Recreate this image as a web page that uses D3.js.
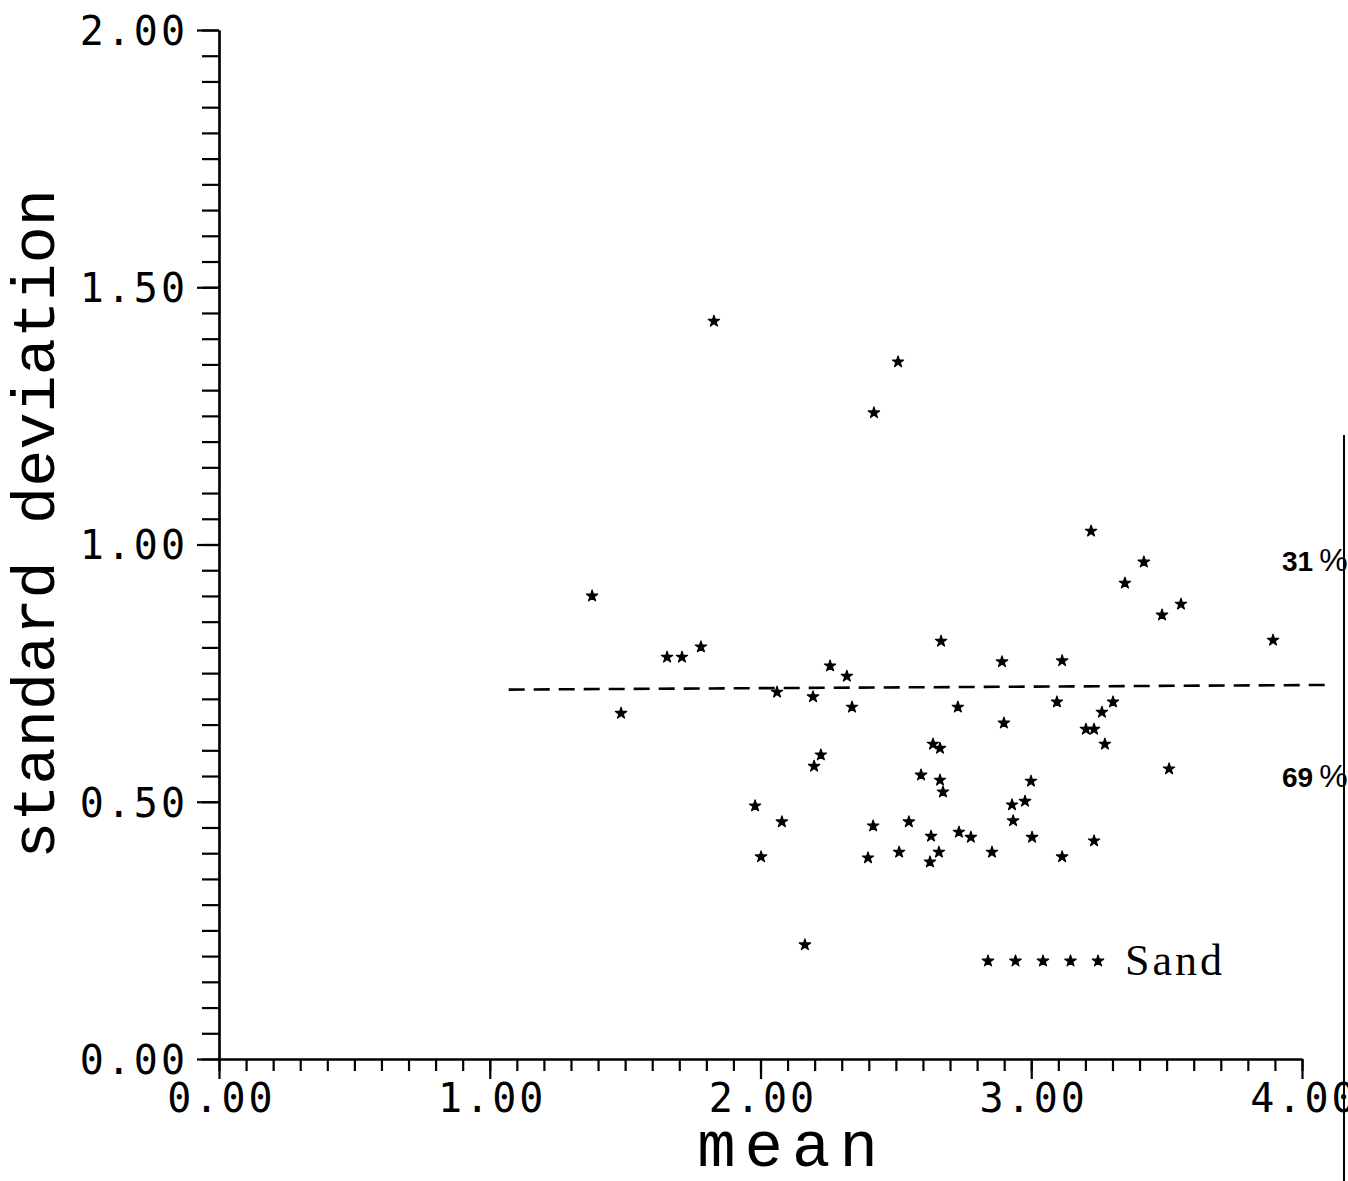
<!DOCTYPE html>
<html>
<head>
<meta charset="utf-8">
<script src="https://cdn.jsdelivr.net/npm/d3@7"></script>
<style>
  body { margin: 0; background: #fff; }
  svg { display: block; }
  .tick text { font-family: "DejaVu Sans Mono", monospace; font-size: 40px; letter-spacing: 3px; fill: #000; }
  .axis path, .axis line { stroke: #000; stroke-width: 2.2; }
</style>
</head>
<body>
<svg width="1348" height="1181"></svg>
<script>
// mean (x) and standard deviation (y) for each sample
var meanVals = [1.378, 1.485, 1.655, 1.710, 1.780, 1.828, 1.980, 2.002, 2.061, 2.079,
                2.164, 2.194, 2.198, 2.223, 2.257, 2.319, 2.338, 2.397, 2.416, 2.419,
                2.508, 2.512, 2.548, 2.593, 2.630, 2.626, 2.637, 2.663, 2.663, 2.667,
                2.659, 2.674, 2.729, 2.733, 2.777, 2.855, 2.892, 2.899, 2.929, 2.933,
                2.977, 2.999, 3.003, 3.114, 3.114, 3.095, 3.202, 3.232, 3.221, 3.232,
                3.261, 3.272, 3.302, 3.346, 3.416, 3.483, 3.509, 3.553, 3.893];
var sdVals = [0.900, 0.672, 0.781, 0.781, 0.801, 1.434, 0.492, 0.393, 0.713, 0.461,
              0.222, 0.704, 0.569, 0.591, 0.764, 0.744, 0.684, 0.391, 0.453, 1.256,
              1.355, 0.402, 0.461, 0.552, 0.433, 0.383, 0.612, 0.604, 0.542, 0.812,
              0.402, 0.519, 0.684, 0.441, 0.431, 0.402, 0.772, 0.653, 0.494, 0.463,
              0.501, 0.540, 0.431, 0.393, 0.774, 0.694, 0.641, 0.641, 1.026, 0.424,
              0.674, 0.612, 0.694, 0.925, 0.966, 0.863, 0.564, 0.884, 0.814];

// dashed split line (ends) and the share of points above / below it
var splitX = [1.07, 4.085];
var splitY = [0.718, 0.727];
var shareLabels = ["31", "69"];
var shareY = [0.968, 0.549];

var xTicksMajor = [0, 1, 2, 3, 4];
var yTicksMajor = [0, 0.5, 1, 1.5, 2];

var svg = d3.select("svg");

var x = d3.scaleLinear().domain([0, 4]).range([219, 1302]),
    y = d3.scaleLinear().domain([0, 2]).range([1059, 30]);

// minor ticks first
svg.append("g")
    .attr("class", "axis")
    .attr("transform", "translate(219,0)")
    .call(d3.axisLeft(y).tickValues(d3.range(0, 41).map(function(i) { return i * 0.05; }))
        .tickSize(17).tickSizeOuter(0).tickFormat(""));

svg.append("g")
    .attr("class", "axis")
    .attr("transform", "translate(0,1059)")
    .call(d3.axisBottom(x).tickValues(d3.range(0, 41).map(function(i) { return i * 0.1; }))
        .tickSize(12).tickSizeOuter(0).tickFormat(""));

// major ticks + labels
var yAxisG = svg.append("g")
    .attr("class", "axis")
    .attr("transform", "translate(219,0)")
    .call(d3.axisLeft(y).tickValues(yTicksMajor).tickSize(22).tickSizeOuter(0)
        .tickPadding(9).tickFormat(d3.format(".2f")));
yAxisG.selectAll(".tick text").attr("dy", "0.36em");

var xAxisG = svg.append("g")
    .attr("class", "axis")
    .attr("transform", "translate(0,1059)")
    .call(d3.axisBottom(x).tickValues(xTicksMajor).tickSize(20).tickSizeOuter(0)
        .tickPadding(5).tickFormat(d3.format(".2f")));
xAxisG.selectAll(".tick text").attr("dx", "2");

// axis titles
svg.append("text")
    .attr("transform", "translate(54," + 524 + ") rotate(-90)")
    .style("text-anchor", "middle")
    .style("font-family", "'Liberation Mono', monospace")
    .style("font-size", "62px")
    .text("standard deviation");

svg.append("text")
    .attr("x", 792)
    .attr("y", 1166)
    .style("text-anchor", "middle")
    .style("font-family", "'Liberation Mono', monospace")
    .style("font-size", "64px")
    .style("letter-spacing", "9px")
    .text("mean");

// dashed line
svg.append("line")
    .attr("x1", x(splitX[0])).attr("y1", y(splitY[0]))
    .attr("x2", x(splitX[1])).attr("y2", y(splitY[1]))
    .attr("stroke", "#000")
    .attr("stroke-width", 2.6)
    .attr("stroke-dasharray", "16,9");

// points
var star = d3.symbol().type(d3.symbolStar).size(40);
svg.append("g").selectAll("path")
    .data(meanVals)
    .enter().append("path")
    .attr("transform", function(d, i) { return "translate(" + x(d) + "," + y(sdVals[i]) + ")"; })
    .attr("d", star)
    .attr("fill", "#000")
    .attr("stroke", "#000")
    .attr("stroke-width", 1.2)
    .attr("stroke-linejoin", "round");

// share labels on the right
var share = svg.append("g").selectAll("text")
    .data(shareLabels)
    .enter().append("text")
    .attr("x", 1282)
    .attr("y", function(d, i) { return y(shareY[i]) + 10; })
    .style("font-family", "'Liberation Sans Narrow', 'Liberation Sans', sans-serif")
    .style("font-weight", "bold")
    .style("font-size", "28px");
share.append("tspan").text(function(d) { return d; });
share.append("tspan")
    .attr("dx", 6)
    .style("font-weight", "normal")
    .style("font-size", "32px")
    .text("%");

// legend
var legend = svg.append("g").attr("transform", "translate(988,961)");
legend.selectAll("path")
    .data(d3.range(5))
    .enter().append("path")
    .attr("transform", function(d) { return "translate(" + (d * 27.5) + ",0)"; })
    .attr("d", star)
    .attr("fill", "#000")
    .attr("stroke", "#000")
    .attr("stroke-width", 1.2)
    .attr("stroke-linejoin", "round");
legend.append("text")
    .attr("x", 137)
    .attr("y", 14)
    .style("font-family", "'Liberation Serif', serif")
    .style("font-size", "44px")
    .style("letter-spacing", "3px")
    .text("Sand");

// scanner edge on the right
svg.append("line")
    .attr("x1", 1344).attr("y1", 435)
    .attr("x2", 1344).attr("y2", 1181)
    .attr("stroke", "#000")
    .attr("stroke-width", 2);
</script>
</body>
</html>
